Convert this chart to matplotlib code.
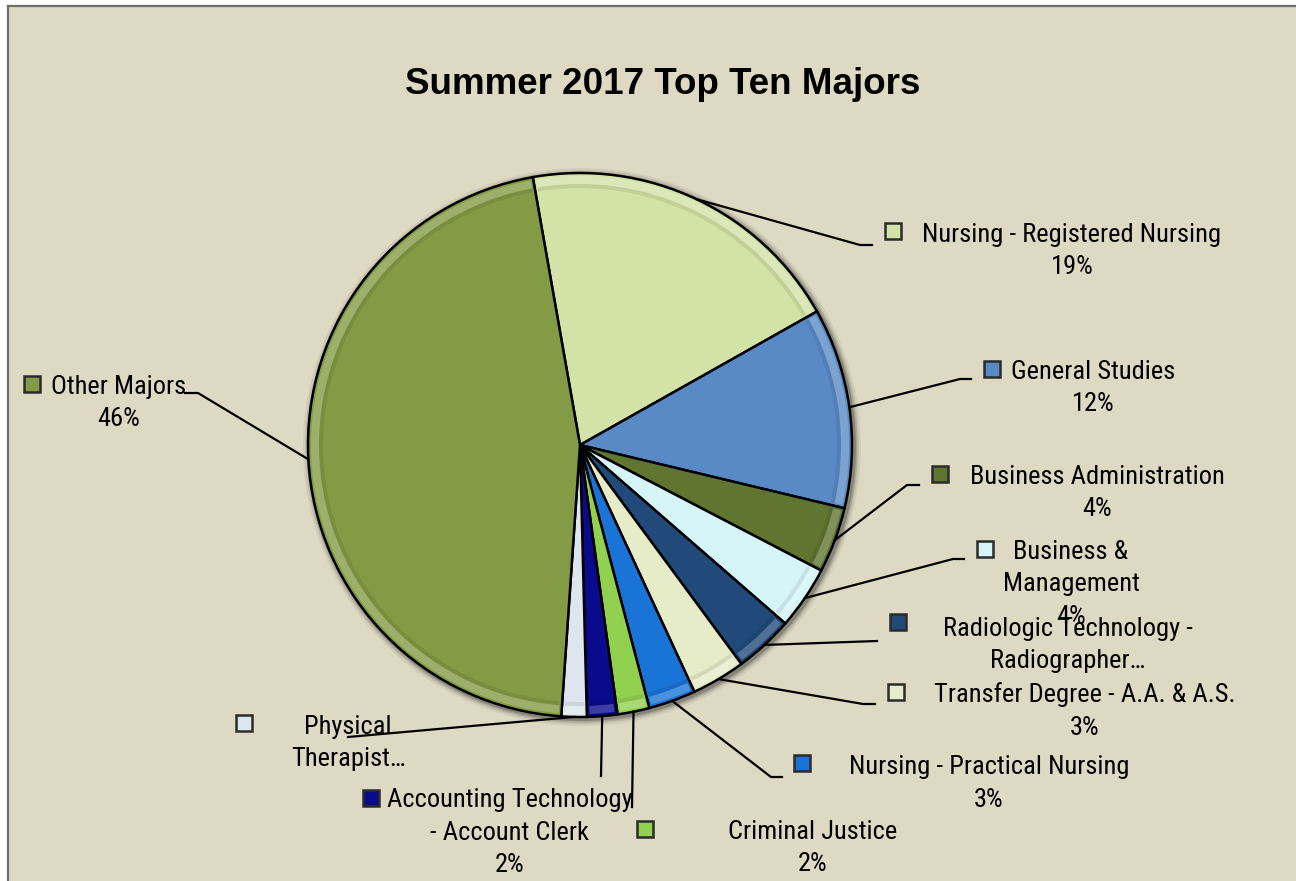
import os
import numpy as np
import matplotlib
matplotlib.use("Agg")
import matplotlib.pyplot as plt
from matplotlib import font_manager
from matplotlib.font_manager import FontProperties
from matplotlib.textpath import TextPath
from matplotlib.patches import Rectangle, Wedge, Circle
from matplotlib.colors import to_rgb

# ── Data ──────────────────────────────────────────────────────────────────────
majors = [
    "Nursing - Registered Nursing", "General Studies", "Business Administration",
    "Business & Management", "Radiologic Technology - Radiographer",
    "Transfer Degree - A.A. & A.S.", "Nursing - Practical Nursing",
    "Criminal Justice", "Accounting Technology - Account Clerk",
    "Physical Therapist Assistant", "Other Majors",
]
shares = [19.6, 11.9, 3.9, 3.75, 3.5, 3.2, 2.8, 1.9, 1.8, 1.5, 46.1]
label_lines = [
    ["Nursing - Registered Nursing", "19%"],
    ["General Studies", "12%"],
    ["Business Administration", "4%"],
    ["Business &", "Management", "4%"],
    ["Radiologic Technology -", "Radiographer…"],
    ["Transfer Degree - A.A. & A.S.", "3%"],
    ["Nursing - Practical Nursing", "3%"],
    ["Criminal Justice", "2%"],
    ["Accounting Technology", "- Account Clerk", "2%"],
    ["Physical", "Therapist…"],
    ["Other Majors", "46%"],
]
colors = ["#d3e2a6", "#5a8ac6", "#5f7530", "#d5f5f7", "#214a7a", "#e6ecc8",
          "#1a73d6", "#92d050", "#0a0a8c", "#dde6ee", "#839b45"]

# ── Layout (image pixel coords, y down) ──────────────────────────────────────
W, H = 1296, 881
CX, CY, R = 580, 445, 272
text_cx = [1072, 1093, 1097, 1071, 1068, 1085, 989, 813, 510, 348, 118.5]
text_cy = [249, 386, 491, 582.5, 643, 709.5, 781.5, 846, 831, 741, 401]
marker_xy = [(892.5, 231), (992, 369), (940, 474), (984.5, 548.5), (898, 622),
             (895.5, 692), (802, 763), (645, 829), (371, 798), (243.7, 722.7),
             (32, 384)]
elbow_xy = [(860, 245), (960, 379), (907, 485), (953, 559), (877, 641),
            (863, 704), (771, 777), (632, 807), (601, 776), (348, 737),
            (198, 393)]
end_xy = [(872, 245), (971, 379), (919, 485), (964, 559), (877, 641),
          (875, 704), (782, 777), (632, 807), (601, 776), (348, 737),
          (185, 393)]
LINE_STEP = 32.5
BG = "#ddd9c3"

# reference label text: "Nursing - Registered Nursing" is ~295 px wide, caps ~19 px
REF_TEXT, REF_W, REF_CAP = "Nursing - Registered Nursing", 295.0, 19.0


def Y(y):
    return H - y


def label_font():
    # choose the installed sans face whose width/height ratio is closest to
    # the narrow face of the reference, then size it to the reference width
    prefixes = ("DejaVuSans", "NotoSans-", "LiberationSans", "Roboto", "OpenSans",
                "Lato", "Inter")
    best = None
    for f in font_manager.fontManager.ttflist:
        base = os.path.basename(f.fname)
        if not base.startswith(prefixes) or "Mono" in base:
            continue
        if f.style != "normal" or f.weight not in (400, "normal", "regular"):
            continue
        try:
            fp = FontProperties(fname=f.fname, size=10)
            w = TextPath((0, 0), REF_TEXT, prop=fp).get_extents().width
            h = TextPath((0, 0), "N", prop=fp).get_extents().height
        except Exception:
            continue
        if h <= 0:
            continue
        score = abs(w / h - REF_W / REF_CAP)
        if best is None or score < best[0]:
            best = (score, f.fname, w)
    if best is None:
        return FontProperties(family="Liberation Sans", size=16.5)
    # TextPath units are points at size 10; px = pt * 100/72
    size = 10 * REF_W / (best[2] * 100 / 72)
    return FontProperties(fname=best[1], size=size)


LABEL_FP = label_font()


def lighten(c, f):
    r, g, b = to_rgb(c)
    return (r + (1 - r) * f, g + (1 - g) * f, b + (1 - b) * f)


# ── Figure ───────────────────────────────────────────────────────────────────
fig = plt.figure(figsize=(W / 100, H / 100), dpi=100, facecolor="white")
ax = fig.add_axes([0, 0, 1, 1])

# chart area + border
ax.add_patch(Rectangle((8, 0), W - 8, Y(6), facecolor=BG, edgecolor="none", zorder=0))
ax.plot([8, 8], [0, Y(5.5)], color="#6e6e6e", lw=1.6, zorder=1)
ax.plot([8, W], [Y(5.5), Y(5.5)], color="#6e6e6e", lw=1.6, zorder=1)

# soft shadow around the pie
for k, a in zip([7, 5, 3.5, 2], [0.05, 0.08, 0.12, 0.2]):
    ax.add_patch(Circle((CX + 2, Y(CY) - 2), R + k, facecolor="black",
                        edgecolor="none", alpha=a, zorder=2))

wedges, _ = ax.pie(shares, colors=colors, startangle=100, counterclock=False,
                   center=(CX, Y(CY)), radius=R, frame=True,
                   wedgeprops=dict(edgecolor="black", linewidth=1.8, zorder=3))
ax.set_xlim(0, W)
ax.set_ylim(0, H)
ax.set_aspect("equal")
ax.axis("off")

# bevel highlight along the rim
for w, c in zip(wedges, colors):
    t1, t2 = w.theta1, w.theta2
    ax.add_patch(Wedge((CX, Y(CY)), R - 3, t1 + 0.6, t2 - 0.6, width=8,
                       facecolor=lighten(c, 0.35), edgecolor="none", alpha=0.6,
                       zorder=3.5))
    ax.add_patch(Wedge((CX, Y(CY)), R - 11, t1 + 0.6, t2 - 0.6, width=4,
                       facecolor="black", edgecolor="none", alpha=0.08,
                       zorder=3.5))

# leader lines
for w, (ex, ey), (qx, qy) in zip(wedges, elbow_xy, end_xy):
    mid = np.deg2rad((w.theta1 + w.theta2) / 2)
    sx, sy = CX + R * np.cos(mid), Y(CY) + R * np.sin(mid)
    ax.plot([sx, ex, qx], [sy, Y(ey), Y(qy)], color="black", lw=1.6, zorder=4,
            solid_joinstyle="miter")

# labels
for lines, cx, cy, (mx, my), c in zip(label_lines, text_cx, text_cy, marker_xy, colors):
    n = len(lines)
    for i, s in enumerate(lines):
        yc = cy + (i - (n - 1) / 2) * LINE_STEP
        ax.text(cx, Y(yc + 9), s, ha="center", va="baseline",
                fontproperties=LABEL_FP, color="black", zorder=5)
    ax.add_patch(Rectangle((mx - 8, Y(my) - 8), 16, 16, facecolor=c,
                           edgecolor="#2b2b2b", lw=1.8, zorder=5))

ax.text(663, Y(81.5 + 12), "Summer 2017 Top Ten Majors", ha="center",
        va="baseline", fontsize=26.5, fontweight="bold", family="Liberation Sans",
        zorder=5)

fig.savefig("out.png", dpi=100, facecolor="white")
